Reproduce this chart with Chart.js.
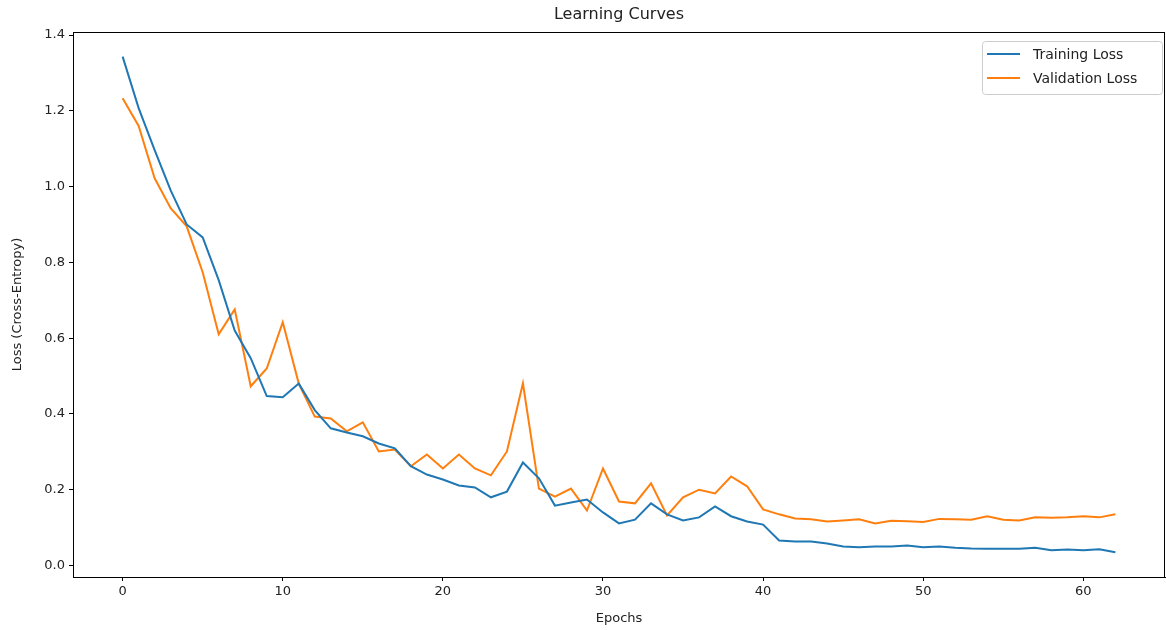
<!DOCTYPE html>
<html>
<head>
<meta charset="utf-8">
<script src="https://cdn.jsdelivr.net/npm/chart.js@4"></script>
<style>
    html, body { margin: 0; padding: 0; background: #fff; }
    #chart-box { width: 1166px; height: 630px; }
</style>
</head>
<body>
<div id="chart-box"><canvas id="learning-canvas"></canvas></div>
<script>
// values
const epochs = [];
for (let e = 0; e <= 62; e++) epochs.push(e);

const trainingLoss = [
    1.343, 1.207, 1.096, 0.990, 0.900, 0.866, 0.753, 0.620, 0.547, 0.447,
    0.444, 0.480, 0.410, 0.362, 0.351, 0.341, 0.322, 0.309, 0.262, 0.240,
    0.227, 0.211, 0.206, 0.180, 0.195, 0.272, 0.230, 0.158, 0.166, 0.174,
    0.140, 0.111, 0.121, 0.164, 0.135, 0.119, 0.127, 0.156, 0.130, 0.116,
    0.108, 0.066, 0.063, 0.063, 0.058, 0.050, 0.048, 0.050, 0.050, 0.053,
    0.048, 0.050, 0.047, 0.045, 0.044, 0.044, 0.044, 0.047, 0.040, 0.042,
    0.040, 0.043, 0.035
];

const validationLoss = [
    1.233, 1.160, 1.022, 0.943, 0.895, 0.774, 0.610, 0.676, 0.473, 0.520,
    0.642, 0.480, 0.393, 0.388, 0.354, 0.378, 0.301, 0.306, 0.262, 0.293,
    0.256, 0.293, 0.256, 0.238, 0.301, 0.481, 0.203, 0.182, 0.203, 0.145,
    0.256, 0.169, 0.164, 0.217, 0.132, 0.180, 0.200, 0.190, 0.235, 0.209,
    0.148, 0.135, 0.124, 0.122, 0.116, 0.119, 0.122, 0.111, 0.118, 0.117,
    0.115, 0.123, 0.122, 0.121, 0.130, 0.121, 0.119, 0.127, 0.126, 0.127,
    0.130, 0.127, 0.135
];

const xTicks = [0, 10, 20, 30, 40, 50, 60];
const yTicks = [0.0, 0.2, 0.4, 0.6, 0.8, 1.0, 1.2, 1.4];

const FONT = 'DejaVu Sans';
const INK = '#222';

function toPoints(xs, ys) {
    let pts = [];
    for (let i = 0; i < ys.length; i++) {
        pts.push({ x: xs[i], y: ys[i] });
    }
    return pts;
}

// frame, title and legend drawn the matplotlib way
const framePlugin = {
    id: 'frame',
    afterDraw(chart) {
        const ctx = chart.ctx;
        const a = chart.chartArea;
        ctx.save();
        ctx.strokeStyle = '#000';
        ctx.lineWidth = 1;
        ctx.strokeRect(a.left + 0.5, a.top + 0.5, a.right - a.left - 1, a.bottom - a.top);

        ctx.fillStyle = INK;
        ctx.font = '16px ' + FONT;
        ctx.textAlign = 'center';
        ctx.textBaseline = 'middle';
        ctx.fillText('Learning Curves', (a.left + a.right) / 2, 15);

        // legend
        const bx = 982, by = 41, bw = 180, bh = 53;
        ctx.strokeStyle = '#cccccc';
        ctx.fillStyle = 'rgba(255,255,255,0.8)';
        ctx.beginPath();
        ctx.roundRect(bx + 0.5, by + 0.5, bw, bh, 3);
        ctx.fill();
        ctx.stroke();

        ctx.font = '14px ' + FONT;
        ctx.textAlign = 'left';
        chart.data.datasets.forEach((ds, i) => {
            const yy = by + 13 + i * 24;
            ctx.strokeStyle = ds.borderColor;
            ctx.lineWidth = 2;
            ctx.beginPath();
            ctx.moveTo(bx + 5, yy);
            ctx.lineTo(bx + 38, yy);
            ctx.stroke();
            ctx.fillStyle = INK;
            ctx.fillText(ds.label, bx + 51, yy + 1);
        });
        ctx.restore();
    }
};

let learningChart = new Chart(document.getElementById('learning-canvas'), {
    type: 'line',
    data: {
        datasets: [
            {
                label: 'Training Loss',
                data: toPoints(epochs, trainingLoss),
                borderColor: '#1f77b4',
                borderWidth: 2,
                pointRadius: 0,
                tension: 0
            },
            {
                label: 'Validation Loss',
                data: toPoints(epochs, validationLoss),
                borderColor: '#ff7f0e',
                borderWidth: 2,
                pointRadius: 0,
                tension: 0
            }
        ]
    },
    options: {
        responsive: true,
        maintainAspectRatio: false,
        animation: false,
        layout: { padding: { top: 32, right: 1, left: 0, bottom: 0 } },
        plugins: {
            legend: { display: false },
            title: { display: false },
            tooltip: { enabled: false }
        },
        scales: {
            x: {
                type: 'linear',
                min: -3.1,
                max: 65.1,
                afterBuildTicks: (axis) => { axis.ticks = xTicks.map(v => ({ value: v })); },
                afterFit: (scale) => { scale.height = 53; },
                grid: { drawOnChartArea: false, drawTicks: true, tickLength: 4, color: '#000' },
                border: { display: true, color: '#000' },
                ticks: { color: INK, font: { family: FONT, size: 13 }, padding: 3, maxRotation: 0 },
                title: { display: true, text: 'Epochs', color: INK, font: { family: FONT, size: 13 }, padding: { top: 2, bottom: 4 } }
            },
            y: {
                type: 'linear',
                min: -0.0304,
                max: 1.408,
                afterBuildTicks: (axis) => { axis.ticks = yTicks.map(v => ({ value: v })); },
                afterFit: (scale) => { scale.width = 73; },
                grid: { drawOnChartArea: false, drawTicks: true, tickLength: 4, color: '#000' },
                border: { display: true, color: '#000' },
                ticks: {
                    color: INK,
                    font: { family: FONT, size: 13 },
                    padding: 4,
                    callback: (v) => v.toFixed(1)
                },
                title: { display: true, text: 'Loss (Cross-Entropy)', color: INK, font: { family: FONT, size: 13 }, padding: { top: 10, bottom: 0 } }
            }
        }
    },
    plugins: [framePlugin]
});
</script>
</body>
</html>
